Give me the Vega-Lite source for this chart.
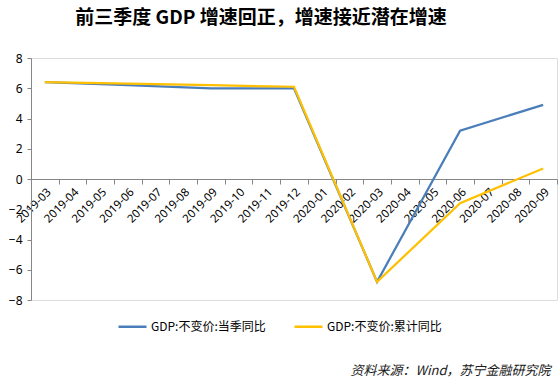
{
  "$schema": "https://vega.github.io/schema/vega-lite/v6.json",
  "width": 526,
  "height": 242,
  "autosize": {"type": "none"},
  "padding": {"left": 31, "top": 58, "right": 2, "bottom": 80},
  "background": "white",
  "title": {
    "text": "前三季度 GDP 增速回正，增速接近潜在增速",
    "font": "Noto Sans CJK SC",
    "fontSize": 19,
    "fontWeight": "bold",
    "color": "#000000",
    "anchor": "middle",
    "frame": "group",
    "dx": -33,
    "offset": 24
  },
  "data": {
    "values": [
      {"month": "2019-03", "series": "GDP:不变价:当季同比", "value": 6.4},
      {"month": "2019-06", "series": "GDP:不变价:当季同比", "value": 6.2},
      {"month": "2019-09", "series": "GDP:不变价:当季同比", "value": 6.0},
      {"month": "2019-12", "series": "GDP:不变价:当季同比", "value": 6.0},
      {"month": "2020-03", "series": "GDP:不变价:当季同比", "value": -6.8},
      {"month": "2020-06", "series": "GDP:不变价:当季同比", "value": 3.2},
      {"month": "2020-09", "series": "GDP:不变价:当季同比", "value": 4.9},
      {"month": "2019-03", "series": "GDP:不变价:累计同比", "value": 6.4},
      {"month": "2019-06", "series": "GDP:不变价:累计同比", "value": 6.3},
      {"month": "2019-09", "series": "GDP:不变价:累计同比", "value": 6.2},
      {"month": "2019-12", "series": "GDP:不变价:累计同比", "value": 6.1},
      {"month": "2020-03", "series": "GDP:不变价:累计同比", "value": -6.8},
      {"month": "2020-06", "series": "GDP:不变价:累计同比", "value": -1.6},
      {"month": "2020-09", "series": "GDP:不变价:累计同比", "value": 0.7}
    ]
  },
  "mark": {"type": "line", "strokeWidth": 2.25},
  "encoding": {
    "x": {
      "field": "month",
      "type": "ordinal",
      "scale": {
        "type": "band",
        "domain": ["2019-03", "2019-04", "2019-05", "2019-06", "2019-07", "2019-08", "2019-09", "2019-10", "2019-11", "2019-12", "2020-01", "2020-02", "2020-03", "2020-04", "2020-05", "2020-06", "2020-07", "2020-08", "2020-09"],
        "paddingInner": 0,
        "paddingOuter": 0
      },
      "axis": {
        "title": "资料来源：Wind，苏宁金融研究院",
        "titleFont": "Noto Sans CJK SC",
        "titleFontSize": 13,
        "titleFontStyle": "italic",
        "titleFontWeight": "normal",
        "titleColor": "#1a1a1a",
        "titleX": 519,
        "titleY": 191,
        "titleAlign": "right",
        "titleBaseline": "middle",
        "titleAngle": 0,
        "offset": -121,
        "labelAngle": -45,
        "tickBand": "extent",
        "tickSize": 5,
        "domainColor": "#868686",
        "tickColor": "#868686",
        "labelFont": "Noto Sans",
        "labelFontSize": 11.5,
        "labelColor": "#000000",
        "labelPadding": 2,
        "grid": false
      }
    },
    "y": {
      "field": "value",
      "type": "quantitative",
      "scale": {"domain": [-8, 8], "nice": false},
      "axis": {
        "title": null,
        "values": [-8, -6, -4, -2, 0, 2, 4, 6, 8],
        "grid": false,
        "tickSize": 4,
        "labelPadding": 5,
        "domainColor": "#868686",
        "tickColor": "#868686",
        "labelFont": "Noto Sans",
        "labelFontSize": 12,
        "labelColor": "#000000"
      }
    },
    "color": {
      "field": "series",
      "type": "nominal",
      "scale": {
        "domain": ["GDP:不变价:当季同比", "GDP:不变价:累计同比"],
        "range": ["#4A7EBB", "#FFC000"]
      },
      "legend": {
        "title": null,
        "orient": "none",
        "direction": "horizontal",
        "legendX": 86,
        "legendY": 253,
        "symbolType": "stroke",
        "symbolSize": 784,
        "symbolStrokeWidth": 2.5,
        "labelFont": "Noto Sans CJK SC",
        "labelFontSize": 12,
        "labelColor": "#000000",
        "labelOffset": 3,
        "columnPadding": 23
      }
    }
  }
}
